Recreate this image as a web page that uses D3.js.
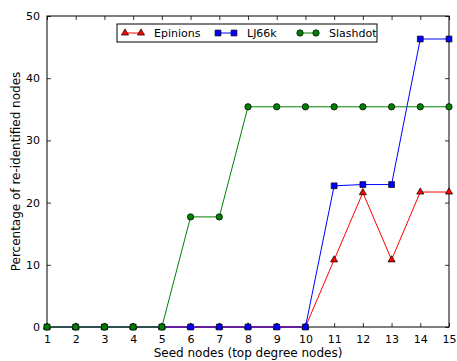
<!DOCTYPE html>
<html>
<head>
<meta charset="utf-8">
<script src="https://cdn.jsdelivr.net/npm/d3@7"></script>
<style>
  body { margin: 0; background: #fff; }
  svg { font-family: "DejaVu Sans", sans-serif; }
</style>
</head>
<body>
<div id="chart"></div>
<script>
// data
var seeds = [1, 2, 3, 4, 5, 6, 7, 8, 9, 10, 11, 12, 13, 14, 15];
var epinions = [0, 0, 0, 0, 0, 0, 0, 0, 0, 0, 10.8, 21.6, 10.8, 21.7, 21.7];
var lj66k = [0, 0, 0, 0, 0, 0, 0, 0, 0, 0, 22.7, 22.9, 22.9, 46.3, 46.3];
var slashdot = [0, 0, 0, 0, 0, 17.7, 17.7, 35.4, 35.4, 35.4, 35.4, 35.4, 35.4, 35.4, 35.4];
var yTicks = [0, 10, 20, 30, 40, 50];

var series = [
  {name: "Epinions", values: epinions, color: "#ff0000", marker: "triangle"},
  {name: "LJ66k", values: lj66k, color: "#0000ff", marker: "square"},
  {name: "Slashdot", values: slashdot, color: "#008000", marker: "circle"}
];

var fullWidth = 457, fullHeight = 361;
var margin = {top: 16, right: 8, bottom: 34, left: 47};
var width = fullWidth - margin.left - margin.right;
var height = fullHeight - margin.top - margin.bottom;

var svg = d3.select("#chart").append("svg")
    .attr("width", fullWidth)
    .attr("height", fullHeight);

var g = svg.append("g")
    .attr("transform", "translate(" + margin.left + "," + margin.top + ")");

var x = d3.scaleLinear().domain([1, 15]).range([0, width]);
var y = d3.scaleLinear().domain([0, 50]).range([height, 0]);

// axes with inward ticks, like the classic matplotlib look
g.append("g")
    .attr("transform", "translate(0," + height + ")")
    .call(d3.axisBottom(x).tickValues(seeds).tickSize(-4).tickPadding(8).tickSizeOuter(0));
g.append("g")
    .call(d3.axisLeft(y).tickValues(yTicks).tickSize(-4).tickPadding(7).tickSizeOuter(0));
g.append("g")
    .call(d3.axisTop(x).tickValues(seeds).tickSize(-4).tickFormat("").tickSizeOuter(0));
g.append("g")
    .attr("transform", "translate(" + width + ",0)")
    .call(d3.axisRight(y).tickValues(yTicks).tickSize(-4).tickFormat("").tickSizeOuter(0));

svg.selectAll(".domain").remove();
svg.selectAll(".tick line").attr("stroke", "#000").attr("stroke-width", 0.8);
svg.selectAll(".tick text")
    .style("font-size", "11px")
    .style("font-family", "DejaVu Sans")
    .attr("fill", "#000");

// frame
g.append("rect")
    .attr("width", width)
    .attr("height", height)
    .attr("fill", "none")
    .attr("stroke", "#000")
    .attr("stroke-width", 1);

// axis labels
svg.append("text")
    .attr("x", margin.left + width / 2)
    .attr("y", fullHeight - 4)
    .attr("text-anchor", "middle")
    .style("font-size", "12px")
    .text("Seed nodes (top degree nodes)");

svg.append("text")
    .attr("transform", "translate(20," + (margin.top + height / 2) + ")rotate(-90)")
    .attr("text-anchor", "middle")
    .style("font-size", "12px")
    .text("Percentage of re-identified nodes");

var symbols = {
  triangle: d3.symbol().type(d3.symbolTriangle).size(22),
  square: d3.symbol().type(d3.symbolSquare).size(34),
  circle: d3.symbol().type(d3.symbolCircle).size(32)
};

var line = d3.line()
    .x(function(d, i) { return x(seeds[i]); })
    .y(function(d) { return y(d); });

var plot = g.append("g");
series.forEach(function(s) {
  plot.append("path")
      .datum(s.values)
      .attr("d", line)
      .attr("fill", "none")
      .attr("stroke", s.color)
      .attr("stroke-width", 1);
  plot.selectAll(null)
      .data(s.values)
    .enter().append("path")
      .attr("d", symbols[s.marker])
      .attr("transform", function(d, i) { return "translate(" + x(seeds[i]) + "," + y(d) + ")"; })
      .attr("fill", s.color)
      .attr("stroke", "#000")
      .attr("stroke-width", 0.7);
});

// legend
var legend = svg.append("g").attr("transform", "translate(117,24)");
legend.append("rect")
    .attr("width", 260)
    .attr("height", 18)
    .attr("fill", "#fff")
    .attr("stroke", "#000")
    .attr("stroke-width", 1);
var legendX = [8, 101, 183];
series.forEach(function(s, i) {
  var item = legend.append("g").attr("transform", "translate(" + legendX[i] + ",9)");
  item.append("line")
      .attr("x1", 0).attr("x2", 16)
      .attr("stroke", s.color).attr("stroke-width", 1);
  [0, 16].forEach(function(px) {
    item.append("path")
        .attr("d", symbols[s.marker])
        .attr("transform", "translate(" + px + ",0)")
        .attr("fill", s.color)
        .attr("stroke", "#000")
        .attr("stroke-width", 0.7);
  });
  item.append("text")
      .attr("x", 29)
      .attr("y", 4)
      .style("font-size", "11px")
      .text(s.name);
});
</script>
</body>
</html>
